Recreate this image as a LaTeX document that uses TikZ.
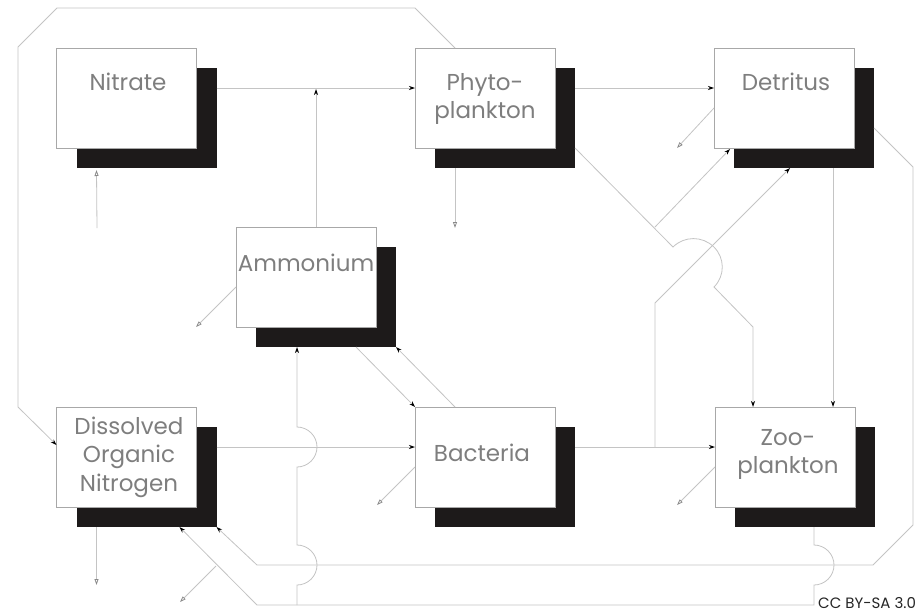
\documentclass[tikz,border=0pt]{standalone}
\usepackage{fontspec}
\setmainfont{Poppins}
\usetikzlibrary{arrows.meta}
\definecolor{linegray}{HTML}{C4C4C4}
\definecolor{boxgray}{HTML}{A8A8A8}
\definecolor{textgray}{HTML}{7E7E7E}
\definecolor{shadowc}{HTML}{1D1A1A}
\definecolor{tipgray}{HTML}{8A8A8A}
\tikzset{
  whitebox/.style={draw=boxgray, fill=white, line width=0.8pt, minimum width=140pt, minimum height=100pt, inner sep=0pt, outer sep=0pt},
  shadowbox/.style={fill=shadowc, draw=none, minimum width=140pt, minimum height=100pt, inner sep=0pt, outer sep=0pt},
  lbl/.style={text=textgray, font=\fontsize{23}{28}\selectfont, inner sep=0pt, anchor=base},
  ln/.style={draw=linegray, line width=0.8pt},
  flow/.style={ln, -{Stealth[length=6pt,width=4pt,color=black]}},
  loss/.style={ln, -{Triangle[open,length=6pt,width=4pt,color=tipgray]}}
}
\begin{document}
\begin{tikzpicture}[x=1pt,y=-1pt]
\useasboundingbox[fill=white] (0,0) rectangle (918,613);
% boxes
\node[shadowbox] (nitS) at (146.5,118) {};
\node[whitebox]  (nit)  at (126.5,98) {};
\node[shadowbox] (phyS) at (505,118) {};
\node[whitebox]  (phy)  at (485,98) {};
\node[shadowbox] (detS) at (804,118) {};
\node[whitebox]  (det)  at (784,98) {};
\node[shadowbox] (ammS) at (326,297) {};
\node[whitebox]  (amm)  at (306,277) {};
\node[shadowbox] (donS) at (146.5,477) {};
\node[whitebox]  (don)  at (126.5,457) {};
\node[shadowbox] (bacS) at (505,477) {};
\node[whitebox]  (bac)  at (485,457) {};
\node[shadowbox] (zooS) at (805,477) {};
\node[whitebox]  (zoo)  at (785,457) {};
% labels
\node[lbl] (nitT) at (128,90) {Nitrate};
\node[lbl] (phyT1) at (485,90) {Phyto-};
\node[lbl] (phyT2) at (485,118) {plankton};
\node[lbl] (detT) at (786,90) {Detritus};
\node[lbl] (ammT) at (306,271) {Ammonium};
\node[lbl] (donT1) at (129,434) {Dissolved};
\node[lbl] (donT2) at (129,462.5) {Organic};
\node[lbl] (donT3) at (129,491) {Nitrogen};
\node[lbl] (bacT) at (482,461) {Bacteria};
\node[lbl] (zooT1) at (788,445) {Zoo-};
\node[lbl] (zooT2) at (788,473) {plankton};
\node[text=black!85, font=\fontsize{15}{17}\selectfont, inner sep=0pt, anchor=base west] (cc) at (818,608) {CC BY-SA 3.0};
% free ends
\coordinate (nitIn) at (97,228);
\coordinate (bend) at (216,566);
% main flows
\draw[flow] ([yshift=-20pt]nitS.north east) -- ([yshift=-40pt]phy.north west);
\draw[flow] ([xshift=10pt]amm.north) -- ++(0,-138);
\draw[flow] ([yshift=-20pt]phyS.north east) -- ([yshift=-40pt]det.north west);
\draw[flow] ([xshift=40pt]phy.north west) -- (415,8) -- (57,8) -- (18,47) -- (18,407) -- ([yshift=-38pt]don.north west);
\draw[flow] ([yshift=-80pt]phyS.north east) -- (673,247)
   .. controls (684.2,235.8) and (702.4,235.8) .. (713.7,246.8)
   .. controls (725,257.8) and (725.2,275.8) .. (714,287)
   -- (753,327) -- ([xshift=38pt]zoo.north west);
\draw[flow] (655,227) -- ([xshift=16pt,yshift=-1pt]det.south west);
\draw[flow] ([yshift=-20pt]bacS.north east) -- ([yshift=-40pt]zoo.north west);
\draw[flow] (655,447) -- (655,303) -- ([xshift=56pt]detS.south west);
\draw[flow] ([xshift=99pt]detS.south west) -- ([xshift=118pt]zoo.north west);
\draw[flow] ([yshift=-60pt]detS.north east) -- (913,167) -- (913,525) -- (873,565) -- (257,565) -- (donS.south east);
\draw[flow] ([xshift=79pt]zooS.south west) -- (814,545)
   .. controls (825,545) and (834,554) .. (834,565)
   .. controls (834,576) and (825,585) .. (814,585)
   -- (814,605) -- (257,605) -- ([xshift=103pt]donS.south west);
\draw[flow] (297,605) -- (297,585)
   .. controls (308,585) and (317,576) .. (317,565)
   .. controls (317,554) and (308,545) .. (297,545)
   -- (297,467)
   .. controls (308,467) and (317,458) .. (317,447)
   .. controls (317,436) and (308,427) .. (297,427)
   -- ([xshift=41pt]ammS.south west);
\draw[flow] ([xshift=100pt]ammS.south west) -- (bac.north west);
\draw[flow] ([xshift=40pt]bac.north west) -- (ammS.south east);
\draw[flow] ([yshift=-20pt]donS.north east) -- ([yshift=-40pt]bac.north west);
% losses / inputs
\draw[loss] (nitIn) -- ([xshift=20pt,yshift=-2pt]nitS.south west);
\draw[loss] ([xshift=20pt]phyS.south west) -- ++(0,60);
\draw[loss] ([yshift=-60pt]det.north west) -- ++(-37,40);
\draw[loss] ([yshift=-60pt]amm.north west) -- ++(-40,40);
\draw[loss] ([yshift=-60pt]bac.north west) -- ++(-38,38);
\draw[loss] ([yshift=-60pt]zoo.north west) -- ++(-38,38);
\draw[loss] ([xshift=20pt]donS.south west) -- ++(0,58);
\draw[loss] (bend) -- ++(-36,36);
\end{tikzpicture}
\end{document}
